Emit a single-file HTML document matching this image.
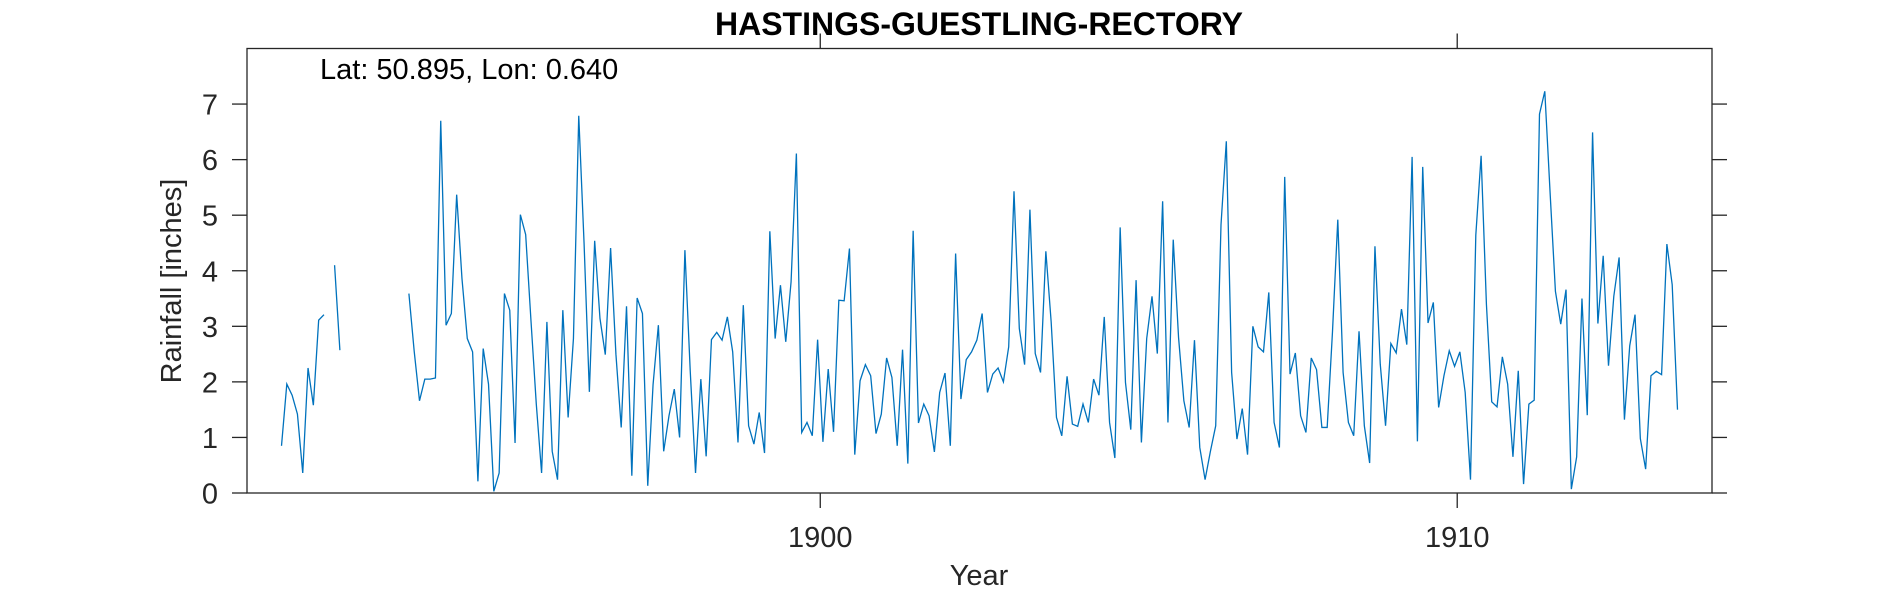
<!DOCTYPE html>
<html><head><meta charset="utf-8"><style>
html,body{margin:0;padding:0;background:#fff;}
svg{display:block;font-family:"Liberation Sans",Arial,sans-serif;}
</style></head><body>
<svg id="chart" width="1890" height="591" viewBox="0 0 1890 591">
<text x="979" y="35" text-anchor="middle" font-size="32" font-weight="bold" fill="#000">HASTINGS-GUESTLING-RECTORY</text>
<text x="181" y="281" text-anchor="middle" font-size="29" fill="#262626" transform="rotate(-90 181 281)">Rainfall [inches]</text>
<text x="979" y="585" text-anchor="middle" font-size="29" fill="#262626">Year</text>
<g id="axes"></g>
<g id="series"></g>
<text x="320" y="79" font-size="29" fill="#000">Lat: 50.895, Lon: 0.640</text>
</svg>
<script>
const startYear = 1891.5417;
const rainfall = [0.85,1.96,1.76,1.42,0.36,2.25,1.58,3.11,3.21,null,4.1,2.57,
null,null,null,null,null,null,null,null,null,null,null,null,
3.59,2.55,1.66,2.05,2.05,2.07,6.70,3.02,3.23,5.37,3.86,2.78,2.54,0.21,2.60,1.96,0.03,0.36,3.59,3.29,0.9,5.01,
4.65,3.1,1.6,0.36,3.08,0.75,0.24,3.29,1.36,2.78,6.79,4.5,1.82,4.54,3.14,2.49,4.41,2.5,1.18,3.36,0.31,3.51,3.23,0.13,1.95,3.02,0.75,1.39,1.87,1.0,4.37,2.2,0.36,2.05,0.66,2.76,2.89,2.75,3.17,2.54,0.91,3.38,1.21,0.88,1.45,0.72,
4.71,2.78,3.74,2.72,3.8,6.11,1.09,1.27,1.03,2.76,0.92,2.23,1.1,3.47,3.46,4.40,0.69,2.02,2.31,2.11,1.07,1.42,2.43,2.08,0.85,2.58,0.53,4.72,1.26,1.6,1.39,0.74,1.81,2.16,0.85,4.31,1.69,2.40,2.54,2.75,3.23,1.81,2.14,2.25,2.0,2.63,
5.43,2.96,2.31,5.10,2.51,2.17,4.35,3.08,1.36,1.03,2.1,1.24,1.2,1.6,1.27,2.05,1.76,3.17,1.27,0.63,4.78,1.99,1.14,3.83,0.91,2.78,3.54,2.51,5.25,1.27,4.56,2.8,1.66,1.18,2.75,0.82,0.24,0.75,1.21,4.83,6.33,2.17,0.97,1.52,0.69,3.0,
2.63,2.54,3.61,1.27,0.82,5.69,2.14,2.52,1.39,1.09,2.43,2.22,1.18,1.18,2.9,4.92,2.17,1.27,1.03,2.91,1.21,0.54,4.44,2.32,1.21,2.69,2.52,3.31,2.67,6.05,0.93,5.87,3.06,3.43,1.54,2.11,2.56,2.28,2.54,1.81,0.24,4.64,6.07,3.4,1.64,
1.55,2.45,1.96,0.65,2.2,0.16,1.6,1.67,6.82,7.23,5.4,3.63,3.04,3.66,0.07,0.65,3.5,1.40,6.49,3.05,4.27,2.29,3.54,4.24,1.32,2.65,3.21,0.98,0.43,2.11,2.19,2.13,4.48,3.75,1.5];
const yTicks = [0,1,2,3,4,5,6,7];
const xTicks = [1900,1910];

const L=247,R=1712,T=48.5,B=493;
const xMin=1891,xMax=1914,yMin=0,yMax=8;
function xs(v){return L+(v-xMin)/(xMax-xMin)*(R-L);}
function ys(v){return B-(v-yMin)/(yMax-yMin)*(B-T);}
const NS="http://www.w3.org/2000/svg";
const axes=document.getElementById('axes');
function mk(tag,attrs,parent){const e=document.createElementNS(NS,tag);for(const k in attrs)e.setAttribute(k,attrs[k]);parent.appendChild(e);return e;}
const box=mk('rect',{x:L,y:T,width:R-L,height:B-T,fill:'none',stroke:'#262626','stroke-width':1.3},axes);


yTicks.forEach(v=>{
  const y=ys(v);
  const t1=mk('line',{x1:L-15,x2:L,y1:y,y2:y,stroke:'#262626','stroke-width':1.3},axes);
  
  
  const t2=mk('line',{x1:R,x2:R+15,y1:y,y2:y,stroke:'#262626','stroke-width':1.3},axes);
  
  
  const lb=mk('text',{x:L-29,y:y+10.5,'text-anchor':'end','font-size':29,fill:'#262626'},axes);
  lb.textContent=v;
  
  
});
xTicks.forEach(v=>{
  const x=xs(v);
  const t1=mk('line',{x1:x,x2:x,y1:B,y2:B+15,stroke:'#262626','stroke-width':1.3},axes);
  
  
  const t2=mk('line',{x1:x,x2:x,y1:T-15,y2:T,stroke:'#262626','stroke-width':1.3},axes);
  
  
  const lb=mk('text',{x:x,y:547,'text-anchor':'middle','font-size':29,fill:'#262626'},axes);
  lb.textContent=v;
  
  
});
const series=document.getElementById('series');
let d='',pen=false;
rainfall.forEach((v,i)=>{
  if(v===null){pen=false;return;}
  const x=xs(startYear+i/12),y=ys(v);
  d+=(pen?'L':'M')+x.toFixed(2)+' '+y.toFixed(2);
  pen=true;
});
const p=mk('path',{d:d,fill:'none',stroke:'#0072BD','stroke-width':1.3,'stroke-linejoin':'miter'},series);


</script>
</body></html>
